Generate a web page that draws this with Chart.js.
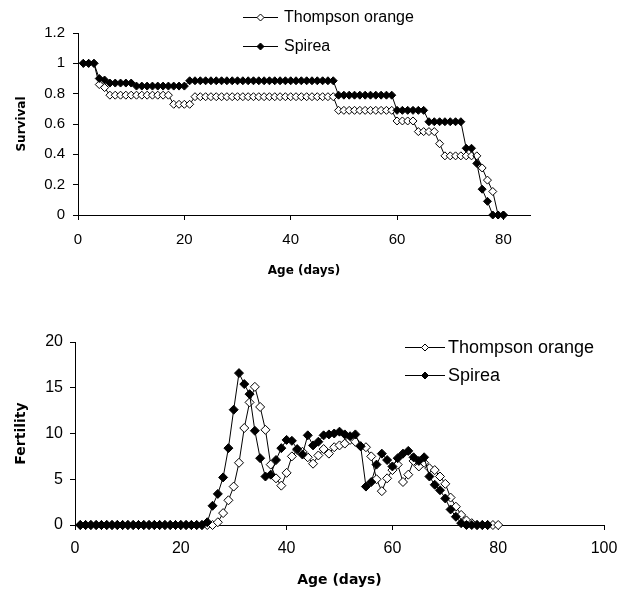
<!DOCTYPE html>
<html><head><meta charset="utf-8">
<script src="https://cdn.jsdelivr.net/npm/chart.js@4.4.1/dist/chart.umd.min.js"></script>
<style>
html,body{margin:0;padding:0;background:#fff;}
#wrap{position:relative;width:630px;height:595px;overflow:hidden;}
.box{position:absolute;left:0;width:630px;}
</style></head><body>
<div id="wrap">
<div class="box" style="top:0;height:300px"><canvas id="c1" width="630" height="300"></canvas></div>
<div class="box" style="top:300px;height:295px"><canvas id="c2" width="630" height="295"></canvas></div>
</div>
<script>
// ---------- DATA ----------
const days = [1,2,3,4,5,6,7,8,9,10,11,12,13,14,15,16,17,18,19,20,21,22,23,24,25,26,27,28,29,30,31,32,33,34,35,36,37,38,39,40,41,42,43,44,45,46,47,48,49,50,51,52,53,54,55,56,57,58,59,60,61,62,63,64,65,66,67,68,69,70,71,72,73,74,75,76,77,78,79,80];
const seriesNames = ['Thompson orange', 'Spirea'];

const survivalThompson = [1,1,1,0.86,0.84,
  0.79,0.79,0.79,0.79,0.79,0.79,0.79,0.79,0.79,0.79,0.79,0.79,
  0.73,0.73,0.73,0.73,
  0.78,0.78,0.78,0.78,0.78,0.78,0.78,0.78,0.78,0.78,0.78,0.78,0.78,0.78,0.78,0.78,0.78,0.78,0.78,0.78,0.78,0.78,0.78,0.78,0.78,0.78,0.78,
  0.69,0.69,0.69,0.69,0.69,0.69,0.69,0.69,0.69,0.69,0.69,
  0.62,0.62,0.62,0.62,
  0.55,0.55,0.55,0.55,
  0.47,
  0.39,0.39,0.39,0.39,0.39,0.39,0.39,
  0.31,0.23,0.155,0,0];
const survivalSpirea = [1,1,1,0.9,0.89,
  0.87,0.87,0.87,0.87,0.87,
  0.85,0.85,0.85,0.85,0.85,0.85,0.85,0.85,0.85,0.85,
  0.885,0.885,0.885,0.885,0.885,0.885,0.885,0.885,0.885,0.885,0.885,0.885,0.885,0.885,0.885,0.885,0.885,0.885,0.885,0.885,0.885,0.885,0.885,0.885,0.885,0.885,0.885,0.885,
  0.79,0.79,0.79,0.79,0.79,0.79,0.79,0.79,0.79,0.79,0.79,
  0.69,0.69,0.69,0.69,0.69,0.69,
  0.615,0.615,0.615,0.615,0.615,0.615,0.615,
  0.44,0.44,0.34,0.17,0.09,0,0,0];

const fertilityThompson = [0,0,0,0,0,0,0,0,0,0,0,0,0,0,0,0,0,0,0,0,0,0,0,0,0,0,
  0.3,1.3,2.7,4.2,6.8,10.6,13.4,15.1,12.9,10.4,6.6,5.1,4.3,5.7,
  7.5,8.2,8.0,7.4,6.7,7.6,8.3,7.8,8.5,8.7,
  8.9,9.3,9.1,8.6,8.5,7.5,5.0,3.7,5.1,6.0,
  6.6,4.7,5.5,7.0,6.4,6.8,6.2,6.0,5.3,4.5,
  3.0,2.0,1.1,0.5,0.2,0,0,0,0,0];
const fertilitySpirea = [0,0,0,0,0,0,0,0,0,0,0,0,0,0,0,0,0,0,0,0,0,0,0,0,
  0.3,2.1,3.4,5.2,8.4,12.6,16.6,15.4,14.3,10.3,7.3,5.3,5.5,7.1,8.4,9.3,
  9.2,8.3,7.7,9.8,8.7,9.1,9.8,9.9,10.0,10.2,
  9.9,9.7,9.9,8.6,4.2,4.7,6.6,7.8,7.1,6.4,
  7.3,7.8,8.1,7.4,7.0,7.4,5.3,4.4,3.8,2.9,
  1.7,0.9,0.2,0,0,0,0,0,null,null];

const survivalXTicks = [0,20,40,60,80];
const survivalYTicks = [0,0.2,0.4,0.6,0.8,1,1.2];
const survivalYLabels = ['0','0.2','0.4','0.6','0.8','1','1.2'];
const fertilityXTicks = [0,20,40,60,80,100];
const fertilityYTicks = [0,5,10,15,20];

// ---------- HELPERS ----------
const pts = arr => days.map((d,i) => ({x:d, y:arr[i]}));
const SANS = '"Liberation Sans", Arial, sans-serif';
const BOLD = '"DejaVu Sans", Verdana, sans-serif';

const legendPlugin = {
  id: 'manualLegend',
  afterDraw(chart, args, o) {
    const ctx = chart.ctx;
    ctx.save();
    o.fills.forEach((fill, i) => {
      const y = o.y + i * o.gap;
      ctx.strokeStyle = '#000';
      ctx.lineWidth = 1;
      ctx.beginPath();
      ctx.moveTo(o.x0, y + 0.5); ctx.lineTo(o.x1, y + 0.5); ctx.stroke();
      const cx = (o.x0 + o.x1) / 2, cy = y + 0.5, r = o.r;
      ctx.beginPath();
      ctx.moveTo(cx - r, cy); ctx.lineTo(cx, cy - r); ctx.lineTo(cx + r, cy); ctx.lineTo(cx, cy + r); ctx.closePath();
      ctx.fillStyle = fill; ctx.fill(); ctx.stroke();
      ctx.fillStyle = '#000';
      ctx.font = o.size + 'px ' + SANS;
      ctx.textBaseline = 'middle';
      ctx.textAlign = 'left';
      ctx.fillText(seriesNames[i], o.tx, y + 1);
    });
    ctx.restore();
  }
};

function ds(label, arr, fill, r, order) {
  return {
    label, data: pts(arr), borderColor:'#000', borderWidth:1,
    pointStyle:'rectRot', pointRadius:r, pointHoverRadius:r,
    pointBackgroundColor:fill, pointBorderColor:'#000', pointBorderWidth:1,
    tension:0, fill:false, clip:false, order, spanGaps:false
  };
}

function axisCommon(tickSize) {
  return {
    type:'linear',
    grid:{display:true, drawOnChartArea:false, drawTicks:true, tickLength:5, color:'#000', lineWidth:1},
    border:{display:true, color:'#000', width:1},
  };
}

// ---------- TOP CHART: Survival ----------
new Chart(document.getElementById('c1'), {
  type:'line',
  data:{ datasets:[
    ds(seriesNames[0], survivalThompson, '#fff', 4, 1),
    ds(seriesNames[1], survivalSpirea, '#000', 4, 0)
  ]},
  options:{
    responsive:false, animation:false, events:[],
    layout:{padding:{left:0, right:100, top:33, bottom:0}},
    plugins:{legend:{display:false}, tooltip:{enabled:false},
      manualLegend:{x0:243, x1:278, tx:284, y:17, gap:29, r:3.5, size:16, fills:['#fff','#000']}},
    scales:{
      x:Object.assign(axisCommon(), {
        min:0, max:85,
        afterBuildTicks: s => { s.ticks = survivalXTicks.map(v => ({value:v})); },
        afterFit: s => { s.height = 85; },
        ticks:{color:'#000', font:{family:SANS, size:15}, padding:11, maxRotation:0, autoSkip:false},
        title:{display:true, text:'Age (days)', color:'#000', font:{family:BOLD, weight:'bold', size:12}, padding:{top:0, bottom:22}}
      }),
      y:Object.assign(axisCommon(), {
        min:0, max:1.2,
        afterBuildTicks: s => { s.ticks = survivalYTicks.map(v => ({value:v})); },
        afterFit: s => { s.width = 78; },
        ticks:{color:'#000', font:{family:SANS, size:15}, padding:8, autoSkip:false, callback:(v,i) => survivalYLabels[i]},
        title:{display:true, text:'Survival', color:'#000', font:{family:BOLD, weight:'bold', size:12}, padding:{top:15, bottom:0}}
      })
    }
  },
  plugins:[legendPlugin]
});

// ---------- BOTTOM CHART: Fertility ----------
new Chart(document.getElementById('c2'), {
  type:'line',
  data:{ datasets:[
    ds(seriesNames[0], fertilityThompson, '#fff', 4.5, 1),
    ds(seriesNames[1], fertilitySpirea, '#000', 4.5, 0)
  ]},
  options:{
    responsive:false, animation:false, events:[],
    layout:{padding:{left:0, right:26, top:42, bottom:0}},
    plugins:{legend:{display:false}, tooltip:{enabled:false},
      manualLegend:{x0:405, x1:445, tx:448, y:47, gap:28, r:3.5, size:18, fills:['#fff','#000']}},
    scales:{
      x:Object.assign(axisCommon(), {
        min:0, max:100,
        afterBuildTicks: s => { s.ticks = fertilityXTicks.map(v => ({value:v})); },
        afterFit: s => { s.height = 70; },
        ticks:{color:'#000', font:{family:SANS, size:16}, padding:9, maxRotation:0, autoSkip:false},
        title:{display:true, text:'Age (days)', color:'#000', font:{family:BOLD, weight:'bold', size:14}, padding:{top:0, bottom:6}}
      }),
      y:Object.assign(axisCommon(), {
        min:0, max:20,
        afterBuildTicks: s => { s.ticks = fertilityYTicks.map(v => ({value:v})); },
        afterFit: s => { s.width = 75; },
        ticks:{color:'#000', font:{family:SANS, size:16}, padding:7, autoSkip:false},
        title:{display:true, text:'Fertility', color:'#000', font:{family:BOLD, weight:'bold', size:14}, padding:{top:13, bottom:0}}
      })
    }
  },
  plugins:[legendPlugin]
});
</script>
</body></html>
